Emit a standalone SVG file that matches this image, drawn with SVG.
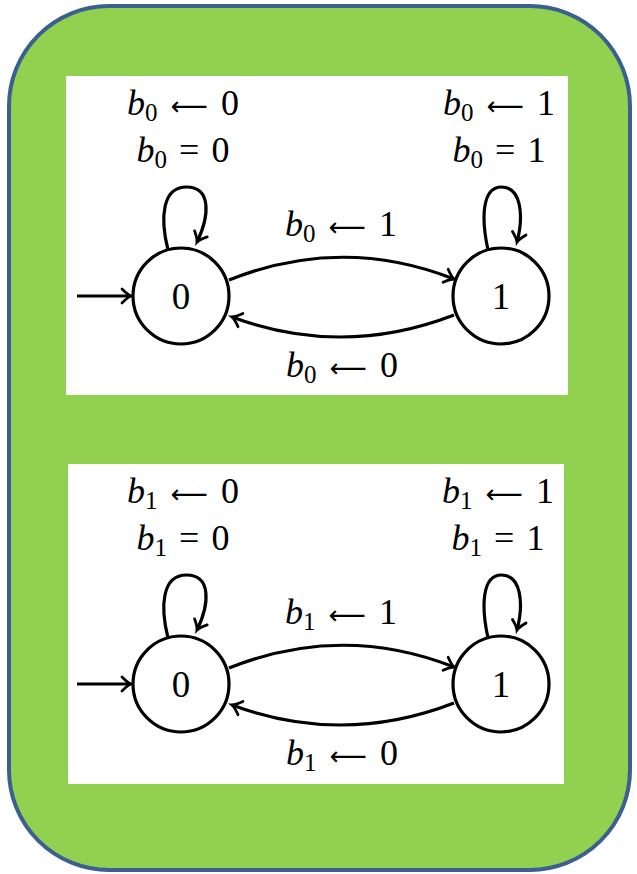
<svg xmlns="http://www.w3.org/2000/svg" width="637" height="874" viewBox="0 0 637 874">
<defs>
<style>
.bg{fill:#92D050;stroke:#3C5F91;stroke-width:4}
.panel{fill:#FFFFFF}
.st{fill:#FFFFFF;stroke:#000;stroke-width:3.2}
.e{fill:none;stroke:#000;stroke-width:3.2}
</style>
<marker id="ah" markerUnits="userSpaceOnUse" markerWidth="22" markerHeight="22" viewBox="-11 -11 22 22" refX="0" refY="0" orient="auto">
<path d="M-9,-7 Q-3,-1 0,0 Q-3,1 -9,7" fill="none" stroke="#000" stroke-width="2.8" stroke-linecap="round"/>
</marker>
</defs>
<rect class="bg" x="9" y="6" width="621" height="864" rx="100" ry="100"/>
<rect class="panel" x="66" y="76" width="502" height="319"/>
<rect class="panel" x="68" y="464" width="496" height="320"/>

<g id="connectors">
<path class="e" d="M77,296 L131,296" marker-end="url(#ah)"/>
<path class="e" d="M168,250 C160,218 162,187 186.5,187 C211,187 210,215 197,242" marker-end="url(#ah)"/>
<path class="e" d="M488,250 C481,218 482,187 501.5,187 C521,187 524,215 517,242" marker-end="url(#ah)"/>
<path class="e" d="M229,280 Q342,235 454,279" marker-end="url(#ah)"/>
<path class="e" d="M454,315 Q343,358 232,317" marker-end="url(#ah)"/>

<path class="e" d="M77,684 L131,684" marker-end="url(#ah)"/>
<path class="e" d="M168,638 C160,606 162,575 186.5,575 C211,575 210,603 197,630" marker-end="url(#ah)"/>
<path class="e" d="M488,638 C481,606 482,575 501.5,575 C521,575 524,603 517,630" marker-end="url(#ah)"/>
<path class="e" d="M229,668 Q342,623 454,667" marker-end="url(#ah)"/>
<path class="e" d="M454,703 Q343,746 232,705" marker-end="url(#ah)"/>
</g>

<g id="labels1" font-family="Liberation Serif, DejaVu Serif, serif" font-size="36" text-anchor="middle" fill="#000">
<text x="183" y="115"><tspan font-style="italic">b</tspan><tspan font-size="25" dy="6">0</tspan><tspan dy="-6" dx="4"> </tspan><tspan font-family="DejaVu Sans, sans-serif" font-size="26">⟵</tspan><tspan dx="4"> 0</tspan></text>
<text x="183" y="162"><tspan font-style="italic">b</tspan><tspan font-size="25" dy="6">0</tspan><tspan dy="-6" dx="3"> = </tspan><tspan dx="3">0</tspan></text>
<text x="499" y="115"><tspan font-style="italic">b</tspan><tspan font-size="25" dy="6">0</tspan><tspan dy="-6" dx="4"> </tspan><tspan font-family="DejaVu Sans, sans-serif" font-size="26">⟵</tspan><tspan dx="4"> 1</tspan></text>
<text x="499" y="162"><tspan font-style="italic">b</tspan><tspan font-size="25" dy="6">0</tspan><tspan dy="-6" dx="3"> = </tspan><tspan dx="3">1</tspan></text>
<text x="341" y="236"><tspan font-style="italic">b</tspan><tspan font-size="25" dy="6">0</tspan><tspan dy="-6" dx="4"> </tspan><tspan font-family="DejaVu Sans, sans-serif" font-size="26">⟵</tspan><tspan dx="4"> 1</tspan></text>
<text x="342" y="377"><tspan font-style="italic">b</tspan><tspan font-size="25" dy="6">0</tspan><tspan dy="-6" dx="4"> </tspan><tspan font-family="DejaVu Sans, sans-serif" font-size="26">⟵</tspan><tspan dx="4"> 0</tspan></text>
</g>
<g id="labels2" font-family="Liberation Serif, DejaVu Serif, serif" font-size="36" text-anchor="middle" fill="#000">
<text x="183" y="503"><tspan font-style="italic">b</tspan><tspan font-size="25" dy="6">1</tspan><tspan dy="-6" dx="4"> </tspan><tspan font-family="DejaVu Sans, sans-serif" font-size="26">⟵</tspan><tspan dx="4"> 0</tspan></text>
<text x="183" y="550"><tspan font-style="italic">b</tspan><tspan font-size="25" dy="6">1</tspan><tspan dy="-6" dx="3"> = </tspan><tspan dx="3">0</tspan></text>
<text x="498" y="503"><tspan font-style="italic">b</tspan><tspan font-size="25" dy="6">1</tspan><tspan dy="-6" dx="4"> </tspan><tspan font-family="DejaVu Sans, sans-serif" font-size="26">⟵</tspan><tspan dx="4"> 1</tspan></text>
<text x="498" y="550"><tspan font-style="italic">b</tspan><tspan font-size="25" dy="6">1</tspan><tspan dy="-6" dx="3"> = </tspan><tspan dx="3">1</tspan></text>
<text x="341" y="624"><tspan font-style="italic">b</tspan><tspan font-size="25" dy="6">1</tspan><tspan dy="-6" dx="4"> </tspan><tspan font-family="DejaVu Sans, sans-serif" font-size="26">⟵</tspan><tspan dx="4"> 1</tspan></text>
<text x="342" y="765"><tspan font-style="italic">b</tspan><tspan font-size="25" dy="6">1</tspan><tspan dy="-6" dx="4"> </tspan><tspan font-family="DejaVu Sans, sans-serif" font-size="26">⟵</tspan><tspan dx="4"> 0</tspan></text>
</g>

<g font-family="Liberation Serif, DejaVu Serif, serif" font-size="37" text-anchor="middle" fill="#000">
<g id="n0a"><circle class="st" cx="181" cy="296" r="48"/><text x="181" y="309">0</text></g>
<g id="n1a"><circle class="st" cx="501" cy="296" r="48"/><text x="501" y="309">1</text></g>
<g id="n0b"><circle class="st" cx="181" cy="684" r="48"/><text x="181" y="697">0</text></g>
<g id="n1b"><circle class="st" cx="501" cy="684" r="48"/><text x="501" y="697">1</text></g>
</g>
</svg>
